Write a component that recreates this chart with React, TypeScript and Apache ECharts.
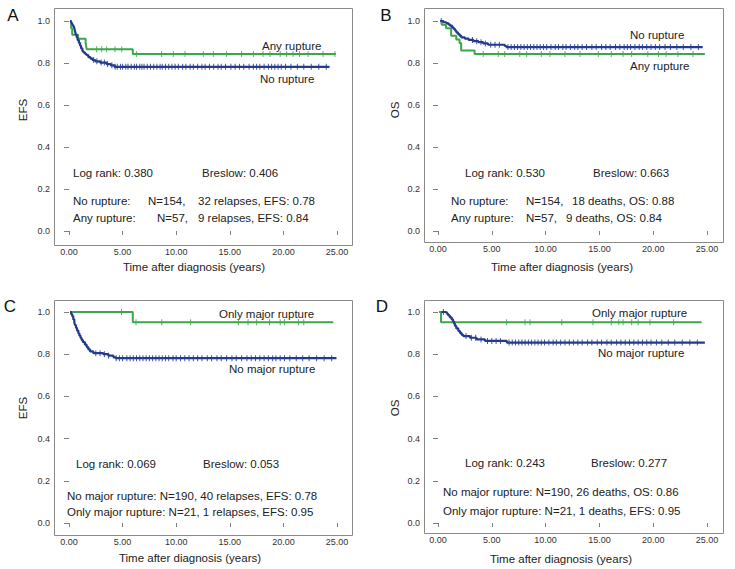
import { useEffect, useRef } from "react";
import * as echarts from "echarts";

const GREEN = "#3ba64b";
const BLUE = "#243a8e";
const FONT = "'Liberation Sans', Arial, Helvetica, sans-serif";

const xTicks = [0, 5, 10, 15, 20, 25];
const yTicks = [0, 0.2, 0.4, 0.6, 0.8, 1.0];

// Kaplan-Meier steps: [time (years), survival from that time on]
const efsNoRupture = [
  [0.1, 1.0], [0.18, 0.994], [0.25, 0.987], [0.32, 0.981], [0.4, 0.974], [0.47, 0.968],
  [0.52, 0.961], [0.58, 0.948], [0.64, 0.935], [0.72, 0.922], [0.8, 0.909], [0.92, 0.896],
  [1.03, 0.883], [1.12, 0.87], [1.25, 0.857], [1.34, 0.851], [1.48, 0.844], [1.62, 0.838],
  [1.8, 0.828], [2.0, 0.821], [2.2, 0.814], [2.45, 0.808], [2.9, 0.802], [3.5, 0.795],
  [3.9, 0.789], [4.25, 0.782], [24.3, 0.782],
];
const efsAnyRupture = [
  [0.1, 1.0], [0.2, 0.965], [0.3, 0.935], [0.85, 0.915], [1.55, 0.897], [1.6, 0.88],
  [1.65, 0.865], [5.95, 0.843], [24.9, 0.843],
];
const osNoRupture = [
  [0.2, 1.0], [0.5, 0.994], [0.77, 0.99], [0.95, 0.984], [1.1, 0.978], [1.3, 0.97],
  [1.45, 0.962], [1.6, 0.954], [1.7, 0.946], [1.85, 0.938], [2.0, 0.93], [2.16, 0.922],
  [2.5, 0.916], [2.85, 0.91], [3.3, 0.904], [3.75, 0.899], [4.2, 0.893], [4.65, 0.887],
  [6.2, 0.881], [6.35, 0.876], [24.6, 0.876],
];
const osAnyRupture = [
  [0.2, 1.0], [0.35, 0.982], [0.75, 0.965], [1.22, 0.93], [1.7, 0.912], [2.0, 0.895],
  [2.15, 0.86], [3.4, 0.843], [24.8, 0.843],
];
const efsNoMajor = [
  [0.1, 1.0], [0.2, 0.99], [0.3, 0.98], [0.4, 0.965], [0.5, 0.95], [0.56, 0.938],
  [0.65, 0.925], [0.75, 0.912], [0.87, 0.899], [0.97, 0.888], [1.08, 0.877], [1.18, 0.867],
  [1.3, 0.857], [1.49, 0.845], [1.65, 0.834], [1.8, 0.823], [1.96, 0.813], [2.27, 0.805],
  [3.2, 0.8], [3.67, 0.793], [4.15, 0.785], [4.35, 0.781], [24.95, 0.781],
];
const efsOnlyMajor = [[0.1, 1.0], [5.95, 0.952], [24.65, 0.952]];
const osNoMajor = [
  [0.3, 1.0], [0.65, 0.997], [0.85, 0.99], [0.96, 0.984], [1.1, 0.975], [1.27, 0.965],
  [1.4, 0.955], [1.5, 0.944], [1.58, 0.934], [1.7, 0.922], [1.89, 0.91], [2.05, 0.9],
  [2.2, 0.892], [2.35, 0.886], [2.97, 0.878], [3.59, 0.87], [4.37, 0.863], [6.4, 0.855],
  [24.8, 0.855],
];
const osOnlyMajor = [[0.1, 1.0], [0.28, 0.952], [24.5, 0.952]];

// Censoring times (years)
const cEfsNoRupture = [2.3, 2.6, 3.0, 3.3, 3.6, 4.0, 4.3, 4.5, 4.8, 5.0, 5.3, 5.5, 5.8, 6.1, 6.3, 6.6, 6.8, 7.0, 7.3, 7.6, 7.9, 8.2, 8.5, 8.7, 9.0, 9.3, 9.6, 9.9, 10.2, 10.6, 10.9, 11.3, 11.6, 12.0, 12.4, 12.7, 13.1, 13.5, 13.9, 14.2, 14.6, 15.1, 15.5, 15.9, 16.3, 16.8, 17.2, 17.5, 17.8, 18.2, 18.6, 18.9, 19.2, 19.5, 19.8, 20.2, 20.7, 21.3, 21.9, 22.6, 23.3, 24.0];
const cEfsAnyRupture = [2.58, 3.05, 3.51, 4.29, 4.92, 6.31, 8.64, 9.73, 10.82, 12.53, 13.46, 14.7, 16.1, 17.2, 18.1, 18.75, 19.7, 20.3, 20.9, 21.5, 22.3, 23.7, 24.8];
const cOsNoRupture = [0.3, 3.2, 3.6, 4.0, 4.4, 4.9, 5.3, 5.7, 6.5, 6.8, 7.1, 7.4, 7.7, 8.0, 8.3, 8.6, 8.9, 9.2, 9.5, 9.8, 10.1, 10.5, 10.9, 11.2, 11.6, 11.9, 12.3, 12.7, 13.0, 13.4, 13.8, 14.3, 14.7, 15.2, 15.6, 16.0, 16.5, 16.9, 17.3, 17.6, 17.9, 18.3, 18.7, 19.0, 19.4, 19.8, 20.2, 20.6, 21.1, 21.6, 22.2, 22.8, 23.5, 24.2];
const cOsAnyRupture = [4.2, 5.6, 6.2, 7.6, 8.24, 9.6, 10.4, 11.8, 13.2, 14.9, 16.1, 17.2, 18.0, 19.5, 20.5, 21.2, 22.3, 23.7];
const cEfsNoMajor = [2.5, 2.9, 3.3, 3.7, 4.4, 4.7, 5.0, 5.4, 5.7, 6.0, 6.3, 6.6, 6.9, 7.2, 7.5, 7.8, 8.1, 8.4, 8.7, 9.0, 9.3, 9.7, 10.0, 10.4, 10.8, 11.2, 11.6, 12.0, 12.4, 12.9, 13.3, 13.8, 14.2, 14.7, 15.2, 15.6, 16.1, 16.6, 17.0, 17.4, 17.8, 18.2, 18.6, 19.0, 19.3, 19.7, 20.1, 20.6, 21.2, 21.8, 22.4, 23.1, 23.8, 24.5];
const cEfsOnlyMajor = [4.9, 6.25, 8.65, 11.35, 15.8, 16.7, 17.5, 18.7, 19.7, 20.1, 21.4, 21.9];
const cOsNoMajor = [0.5, 2.6, 3.1, 3.5, 4.0, 4.6, 5.0, 5.4, 5.8, 6.6, 6.9, 7.2, 7.5, 7.8, 8.1, 8.4, 8.7, 9.0, 9.3, 9.6, 9.9, 10.3, 10.7, 11.0, 11.4, 11.8, 12.2, 12.6, 13.0, 13.4, 13.9, 14.3, 14.8, 15.2, 15.7, 16.1, 16.6, 17.0, 17.4, 17.8, 18.2, 18.6, 19.0, 19.4, 19.8, 20.3, 20.8, 21.4, 22.0, 22.7, 23.4, 24.1];
const cOsOnlyMajor = [6.38, 8.09, 8.55, 11.5, 14.4, 16.1, 16.8, 17.2, 18.0, 18.6, 19.7, 21.9];

function survAt(steps: number[][], t: number): number {
  let v = steps[0][1];
  for (const [st, sv] of steps) {
    if (st <= t) v = sv;
  }
  return v;
}

type Panel = {
  letter: string;
  letterPos: [number, number];
  yName: string;
  yNamePos: [number, number];
  titlePos: [number, number];
  grid: { left: number; top: number; width: number; height: number };
  box: [number, number, number, number];
  curves: { steps: number[][]; censor: number[]; color: string; width: number }[];
  texts: [string, number, number][];
};

const panels: Panel[] = [
  {
    letter: "A", letterPos: [13, 15], yName: "EFS", yNamePos: [23, 110], titlePos: [194, 267],
    grid: { left: 69, top: 21, width: 268, height: 210 }, box: [54, 8, 298, 237],
    curves: [
      { steps: efsAnyRupture, censor: cEfsAnyRupture, color: GREEN, width: 2 },
      { steps: efsNoRupture, censor: cEfsNoRupture, color: BLUE, width: 2.2 },
    ],
    texts: [
      ["Any rupture", 262, 46], ["No rupture", 260, 79],
      ["Log rank: 0.380", 73, 173], ["Breslow: 0.406", 202, 173],
      ["No rupture:", 73, 201], ["N=154,", 148, 201], ["32 relapses, EFS: 0.78", 198, 201],
      ["Any rupture:", 73, 218], ["N=57,", 157, 218], ["9 relapses, EFS: 0.84", 198, 218],
    ],
  },
  {
    letter: "B", letterPos: [386, 15], yName: "OS", yNamePos: [395, 110], titlePos: [562, 267],
    grid: { left: 438, top: 21, width: 269, height: 210 }, box: [424, 8, 299, 234],
    curves: [
      { steps: osAnyRupture, censor: cOsAnyRupture, color: GREEN, width: 2 },
      { steps: osNoRupture, censor: cOsNoRupture, color: BLUE, width: 2.2 },
    ],
    texts: [
      ["No rupture", 630, 35], ["Any rupture", 630, 66],
      ["Log rank: 0.530", 465, 173], ["Breslow: 0.663", 593, 173],
      ["No rupture:", 451, 201], ["N=154,", 526, 201], ["18 deaths, OS: 0.88", 572, 201],
      ["Any rupture:", 451, 218], ["N=57,", 526, 218], ["9 deaths, OS: 0.84", 566, 218],
    ],
  },
  {
    letter: "C", letterPos: [10, 306], yName: "EFS", yNamePos: [23, 408], titlePos: [190, 558],
    grid: { left: 69, top: 312, width: 268, height: 211 }, box: [54, 300, 298, 235],
    curves: [
      { steps: efsOnlyMajor, censor: cEfsOnlyMajor, color: GREEN, width: 2 },
      { steps: efsNoMajor, censor: cEfsNoMajor, color: BLUE, width: 2.2 },
    ],
    texts: [
      ["Only major rupture", 219, 314], ["No major rupture", 229, 369],
      ["Log rank: 0.069", 76, 464], ["Breslow: 0.053", 203, 464],
      ["No major rupture: N=190, 40 relapses, EFS: 0.78", 67, 496],
      ["Only major rupture: N=21, 1 relapses, EFS: 0.95", 67, 512],
    ],
  },
  {
    letter: "D", letterPos: [382, 306], yName: "OS", yNamePos: [395, 408], titlePos: [561, 559],
    grid: { left: 438, top: 312, width: 269, height: 211 }, box: [424, 300, 299, 233],
    curves: [
      { steps: osOnlyMajor, censor: cOsOnlyMajor, color: GREEN, width: 2 },
      { steps: osNoMajor, censor: cOsNoMajor, color: BLUE, width: 2.2 },
    ],
    texts: [
      ["Only major rupture", 592, 313], ["No major rupture", 598, 353],
      ["Log rank: 0.243", 465, 463], ["Breslow: 0.277", 591, 463],
      ["No major rupture: N=190, 26 deaths, OS: 0.86", 443, 492],
      ["Only major rupture: N=21, 1 deaths, EFS: 0.95", 443, 511],
    ],
  },
];

function buildOption() {
  const grid: any[] = [];
  const xAxis: any[] = [];
  const yAxis: any[] = [];
  const series: any[] = [];
  const graphic: any[] = [];

  panels.forEach((p, i) => {
    grid.push({ ...p.grid, containLabel: false });
    const [bx, by, bw, bh] = p.box;
    const xOff = by + bh - (p.grid.top + p.grid.height);
    const yOff = p.grid.left - bx;
    xAxis.push({
      type: "value", gridIndex: i, min: xTicks[0], max: xTicks[xTicks.length - 1], interval: 5,
      offset: xOff,
      axisLine: { show: false },
      axisTick: { show: true, length: 4, lineStyle: { color: "#808080", width: 1 } },
      axisLabel: { fontSize: 9, color: "#333", margin: 2, fontFamily: FONT, formatter: (v: number) => v.toFixed(2) },
      splitLine: { show: false },
    });
    yAxis.push({
      type: "value", gridIndex: i, min: yTicks[0], max: yTicks[yTicks.length - 1], interval: 0.2,
      offset: yOff,
      axisLine: { show: false },
      axisTick: { show: true, length: 5, lineStyle: { color: "#808080", width: 1 } },
      axisLabel: { fontSize: 9, color: "#333", margin: 4, fontFamily: FONT, formatter: (v: number) => v.toFixed(1) },
      splitLine: { show: false },
    });
    p.curves.forEach((c) => {
      series.push({
        type: "line", step: "end", xAxisIndex: i, yAxisIndex: i, data: c.steps,
        symbol: "none", showSymbol: false, silent: true,
        lineStyle: { color: c.color, width: c.width },
      });
      series.push({
        type: "scatter", xAxisIndex: i, yAxisIndex: i, silent: true,
        data: c.censor.map((t) => [t, survAt(c.steps, t)]),
        symbol: "rect", symbolSize: [1, 6],
        itemStyle: { color: c.color, opacity: 0.85 },
      });
    });
    graphic.push({
      type: "rect", silent: true, z: 10,
      shape: { x: bx + 0.5, y: by + 0.5, width: bw, height: bh },
      style: { fill: "none", stroke: "#8a8a8a", lineWidth: 1 },
    });
    graphic.push({
      type: "text", x: p.letterPos[0], y: p.letterPos[1], silent: true,
      style: { text: p.letter, font: `17px ${FONT}`, fill: "#111", align: "center", verticalAlign: "middle", textAlign: "center", textVerticalAlign: "middle" },
    });
    graphic.push({
      type: "text", x: p.yNamePos[0], y: p.yNamePos[1], rotation: Math.PI / 2, silent: true,
      style: { text: p.yName, font: `11.5px ${FONT}`, fill: "#222", align: "center", verticalAlign: "middle", textAlign: "center", textVerticalAlign: "middle" },
    });
    graphic.push({
      type: "text", x: p.titlePos[0], y: p.titlePos[1], silent: true,
      style: { text: "Time after diagnosis (years)", font: `11.5px ${FONT}`, fill: "#222", align: "center", verticalAlign: "middle", textAlign: "center", textVerticalAlign: "middle" },
    });
    p.texts.forEach(([t, x, y]) => {
      graphic.push({
        type: "text", x, y, silent: true,
        style: { text: t, font: `11.5px ${FONT}`, fill: "#222", align: "left", verticalAlign: "middle", textAlign: "left", textVerticalAlign: "middle" },
      });
    });
  });

  return {
    animation: false,
    backgroundColor: "#ffffff",
    textStyle: { fontFamily: FONT },
    grid, xAxis, yAxis, series, graphic,
  };
}

export default function App() {
  const ref = useRef<HTMLDivElement>(null);
  useEffect(() => {
    if (!ref.current) return;
    const chart = echarts.init(ref.current, undefined, { renderer: "svg" });
    chart.setOption(buildOption());
    return () => chart.dispose();
  }, []);
  return (
    <div
      ref={ref}
      style={{ position: "fixed", left: 0, top: 0, width: 735, height: 569, background: "#fff" }}
    />
  );
}
